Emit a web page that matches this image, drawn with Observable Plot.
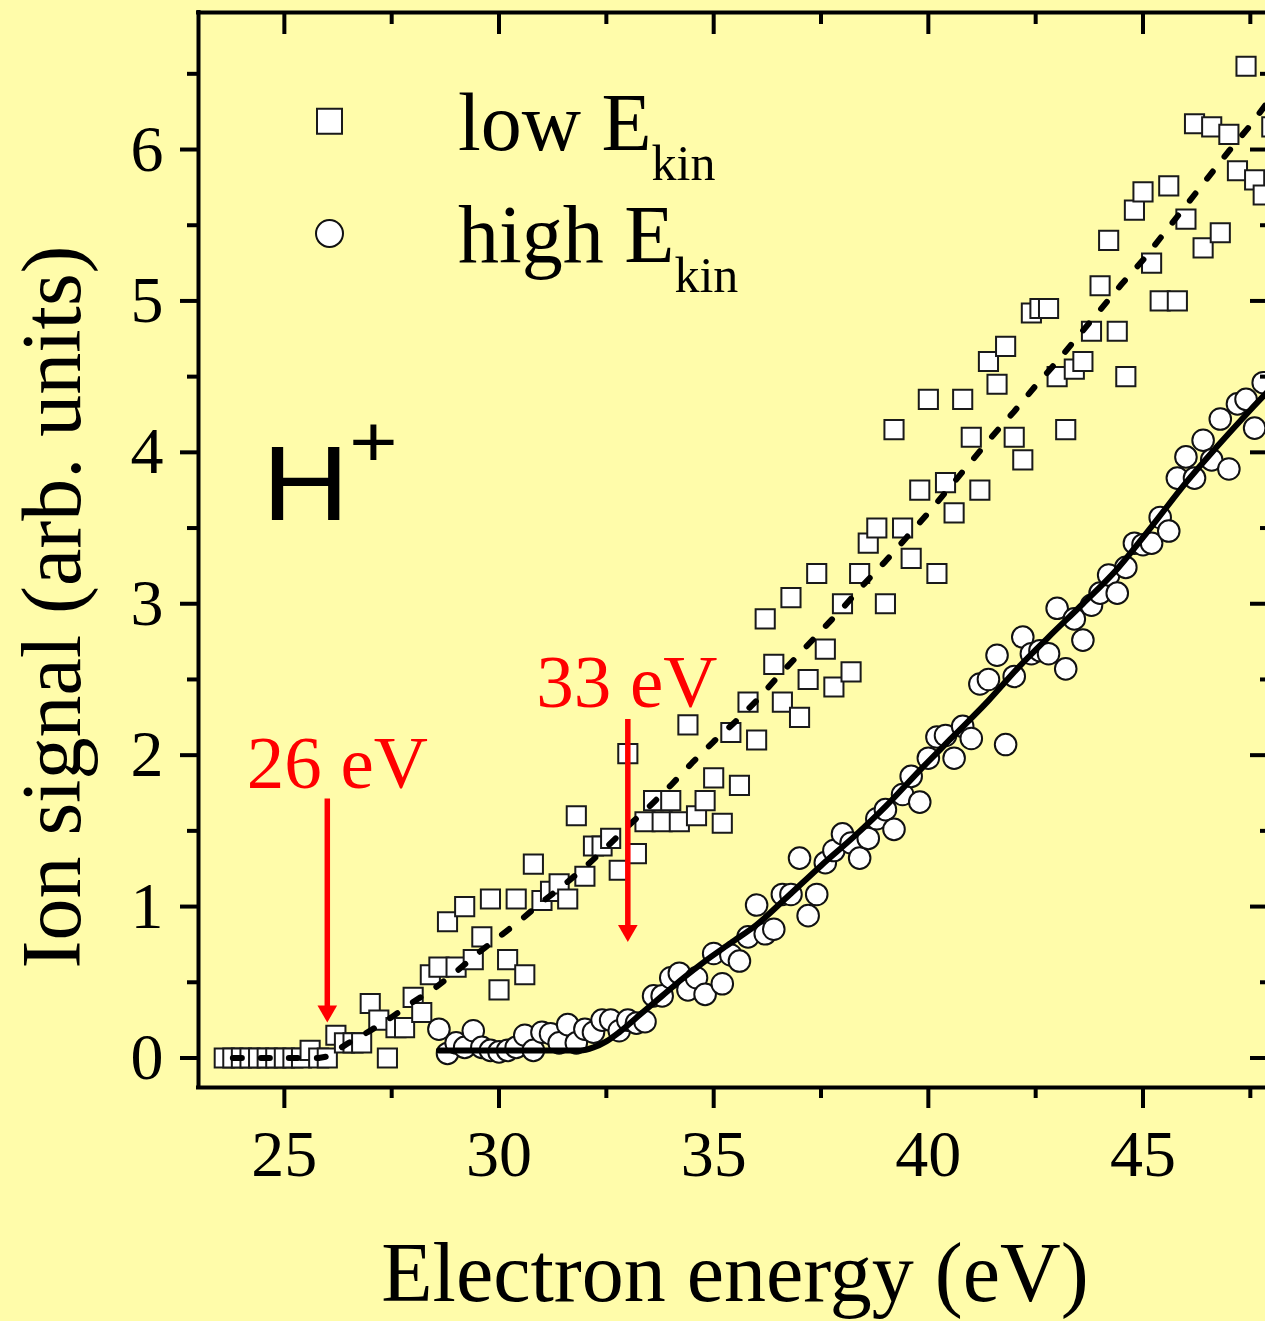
<!DOCTYPE html>
<html>
<head>
<meta charset="utf-8">
<script src="https://cdn.jsdelivr.net/npm/d3@7"></script>
<script src="https://cdn.jsdelivr.net/npm/@observablehq/plot@0.6"></script>
<style>
  html, body { margin: 0; padding: 0; background: #FFFCAA; overflow: hidden; }
  #chart svg { display: block; }
</style>
</head>
<body>
<div id="chart"></div>
<script>
// H+ ion yield versus electron energy, two kinetic-energy windows.

// low E_kin ions (squares), 0.2 eV steps
const lowEnergy = [23.6,23.8,24.0,24.2,24.4,24.6,24.8,25.0,25.2,25.4,
  25.6,25.8,26.0,26.2,26.4,26.6,26.8,27.0,27.2,27.4,
  27.6,27.8,28.0,28.2,28.4,28.6,28.8,29.0,29.2,29.4,
  29.6,29.8,30.0,30.2,30.4,30.6,30.8,31.0,31.2,31.4,
  31.6,31.8,32.0,32.2,32.4,32.6,32.8,33.0,33.2,33.4,
  33.6,33.8,34.0,34.2,34.4,34.6,34.8,35.0,35.2,35.4,
  35.6,35.8,36.0,36.2,36.4,36.6,36.8,37.0,37.2,37.4,
  37.6,37.8,38.0,38.2,38.4,38.6,38.8,39.0,39.2,39.4,
  39.6,39.8,40.0,40.2,40.4,40.6,40.8,41.0,41.2,41.4,
  41.6,41.8,42.0,42.2,42.4,42.6,42.8,43.0,43.2,43.4,
  43.6,43.8,44.0,44.2,44.4,44.6,44.8,45.0,45.2,45.4,
  45.6,45.8,46.0,46.2,46.4,46.6,46.8,47.0,47.2,47.4,
  47.6,47.8,48.0];
const lowSignal = [0,0,0,0,0,0,0,0,0,0,
  0.05,0,0,0.15,0.1,0.1,0.1,0.36,0.25,0,
  0.2,0.2,0.4,0.3,0.55,0.6,0.9,0.6,1.0,0.65,
  0.8,1.05,0.45,0.65,1.05,0.55,1.28,1.04,1.1,1.15,
  1.05,1.6,1.2,1.4,1.4,1.45,1.24,2.01,1.35,1.56,
  1.7,1.56,1.7,1.56,2.2,1.6,1.7,1.85,1.55,2.15,
  1.8,2.35,2.1,2.9,2.6,2.35,3.04,2.25,2.5,3.2,
  2.7,2.45,3.0,2.55,3.2,3.4,3.5,3.0,4.15,3.5,
  3.3,3.75,4.35,3.2,3.8,3.6,4.35,4.1,3.75,4.6,
  4.45,4.7,4.1,3.95,4.92,4.95,4.95,4.5,4.15,4.55,
  4.6,4.8,5.1,5.4,4.8,4.5,5.6,5.72,5.25,5.0,
  5.76,5.0,5.54,6.17,5.35,6.15,5.45,6.1,5.86,6.55,
  5.8,5.7,6.15];

// high E_kin ions (circles)
const highEnergy = [28.6,28.8,29.0,29.2,29.4,29.6,29.8,30.0,30.2,30.4,
  30.6,30.8,31.0,31.2,31.4,31.6,31.8,32.0,32.2,32.4,
  32.6,32.8,33.0,33.2,33.4,33.6,33.8,34.0,34.2,34.4,
  34.6,34.8,35.0,35.2,35.4,35.6,35.8,36.0,36.2,36.4,
  36.6,36.8,37.0,37.2,37.4,37.6,37.8,38.0,38.2,38.4,
  38.6,38.8,39.0,39.2,39.4,39.6,39.8,40.0,40.2,40.4,
  40.6,40.8,41.0,41.2,41.4,41.6,41.8,42.0,42.2,42.4,
  42.6,42.8,43.0,43.2,43.4,43.6,43.8,44.0,44.2,44.4,
  44.6,44.8,45.0,45.2,45.4,45.6,45.8,46.0,46.2,46.4,
  46.6,46.8,47.0,47.2,47.4,47.6,47.8];
const highSignal = [0.19,0.03,0.10,0.07,0.18,0.07,0.05,0.04,0.05,0.07,
  0.15,0.05,0.17,0.16,0.10,0.22,0.10,0.19,0.17,0.25,
  0.25,0.18,0.25,0.23,0.24,0.41,0.41,0.53,0.56,0.45,
  0.53,0.42,0.69,0.49,0.68,0.64,0.80,1.01,0.82,0.85,
  1.08,1.08,1.32,0.94,1.08,1.29,1.37,1.48,1.42,1.32,
  1.45,1.58,1.64,1.51,1.74,1.86,1.69,1.98,2.12,2.13,
  1.98,2.19,2.11,2.47,2.50,2.66,2.07,2.52,2.78,2.67,
  2.69,2.67,2.97,2.57,2.90,2.76,2.99,3.07,3.19,3.07,
  3.24,3.40,3.39,3.40,3.57,3.48,3.83,3.97,3.83,4.08,
  3.95,4.22,3.89,4.32,4.35,4.16,4.46];

// fitted threshold curves
const lowFitEnergy = [23.8,25.8,26.0,26.5,27.0,27.5,28.0,28.5,29.0,29.5,30.0,30.5,31.0,31.5,32.0,32.5,
  33.0,33.5,34.0,34.5,35.0,35.5,36.0,36.5,37.0,37.5,38.0,38.5,39.0,39.5,40.0,40.5,
  41.0,41.5,42.0,42.5,43.0,43.5,44.0,44.5,45.0,45.5,46.0,46.5,47.0,47.5,48.0];
const lowFitSignal = [0,0,0.01,0.1,0.18,0.27,0.37,0.46,0.57,0.69,0.8,0.91,1.03,1.14,1.26,1.39,
  1.53,1.66,1.8,1.95,2.09,2.22,2.36,2.52,2.67,2.82,2.97,3.13,3.28,3.44,3.6,3.77,
  3.94,4.11,4.27,4.44,4.6,4.77,4.94,5.11,5.27,5.45,5.63,5.81,5.99,6.16,6.35];
const highFitEnergy = [28.6,31.9,32.2,32.5,32.8,33.3,33.8,34.3,34.8,35.4,36.0,36.7,37.5,38.3,
  39.0,39.8,40.6,41.4,42.1,42.8,43.6,44.4,45.2,46.0,46.7,47.5,48.0];
const highFitSignal = [0.05,0.05,0.07,0.11,0.17,0.29,0.41,0.53,0.64,0.76,0.88,1.06,1.27,1.47,
  1.66,1.9,2.13,2.36,2.58,2.78,3.0,3.23,3.51,3.8,4.03,4.28,4.43];

// threshold markers
const thresholdEnergy = [26, 33];
const thresholdLabel = ["26 eV", "33 eV"];

// axis ticks
const xMajor = [25, 30, 35, 40, 45];
const xMinor = [27.5, 32.5, 37.5, 42.5, 47.5];
const yMajor = [0, 1, 2, 3, 4, 5, 6];
const yMinor = [0.5, 1.5, 2.5, 3.5, 4.5, 5.5, 6.5];

const xTitle = "Electron energy (eV)";
const yTitle = "Ion signal (arb. units)";
const legendLabels = ["low E", "high E"];
const legendSub = "kin";

// ---- layout & style ----
const W = 1265, H = 1321;
const fL = 198, fT = 12, fB = 1087;
const xDomain = [23, 48], yDomain = [-0.195, 6.905];
const frameW = W - fL, frameH = fB - fT;
const serif = "'Liberation Serif', 'Times New Roman', serif";
const sans = "'Liberation Sans', Arial, sans-serif";
const bg = "#FFFCAA";
const red = "#FF0000";
const ink = "#000";

const low = lowEnergy.map((e, i) => ({e, s: lowSignal[i]}));
const high = highEnergy.map((e, i) => ({e, s: highSignal[i]}));
const lowFit = lowFitEnergy.map((e, i) => ({e, s: lowFitSignal[i]}));
const highFit = highFitEnergy.map((e, i) => ({e, s: highFitSignal[i]}));
const arrows = [
  {e: thresholdEnergy[0], top: 1.71, tip: 0.234, labelY: 1.78, label: thresholdLabel[0], dx: 10},
  {e: thresholdEnergy[1], top: 2.236, tip: 0.765, labelY: 2.315, label: thresholdLabel[1], dx: -1}
];

const svg = Plot.plot({
  width: W, height: H,
  marginLeft: fL, marginRight: 0, marginTop: fT, marginBottom: H - fB,
  style: {background: bg, fontFamily: serif, color: ink},
  x: {domain: xDomain, range: [fL, 1271.3]},
  y: {domain: yDomain, range: [fB, fT]},
  marks: [
    // data
    Plot.dot(low, {x: "e", y: "s", symbol: "square", r: 10.8, fill: "white", stroke: "#1a1a1a", strokeWidth: 2}),
    Plot.line(lowFit, {x: "e", y: "s", stroke: ink, strokeWidth: 6, strokeDasharray: "9,19", strokeLinecap: "round"}),
    Plot.dot(high, {x: "e", y: "s", symbol: "circle", r: 10.8, fill: "white", stroke: "#111", strokeWidth: 2}),
    Plot.line(highFit, {x: "e", y: "s", stroke: ink, strokeWidth: 6, curve: "monotone-x"}),

    // threshold arrows and labels
    Plot.ruleX(arrows, {x: "e", y1: "top", y2: d => d.tip + 0.08, stroke: red, strokeWidth: 5.5}),
    Plot.dot(arrows, {x: "e", y: "tip", symbol: "triangle", r: 7.3, rotate: 180, dy: -11.4, fill: red, stroke: "none"}),
    ...arrows.map(a => Plot.text([a], {x: "e", y: "labelY", text: "label", fill: red, fontSize: 75,
      lineAnchor: "bottom", textAnchor: "middle", dx: a.dx})),

    // frame
    Plot.ruleX([xDomain[0], xDomain[1]], {stroke: ink, strokeWidth: 4, strokeLinecap: "square"}),
    Plot.ruleY([yDomain[0], yDomain[1]], {stroke: ink, strokeWidth: 4, strokeLinecap: "square"}),

    // ticks: outward on left/bottom, inward on top/right
    Plot.tickY(yMajor, {y: d => d, insetLeft: -18, insetRight: frameW, stroke: ink, strokeWidth: 4}),
    Plot.tickY(yMinor, {y: d => d, insetLeft: -11, insetRight: frameW, stroke: ink, strokeWidth: 4}),
    Plot.tickY(yMajor, {y: d => d, insetLeft: 1250 - fL, insetRight: -6, stroke: ink, strokeWidth: 4}),
    Plot.tickY(yMinor, {y: d => d, insetLeft: 1260 - fL, insetRight: -6, stroke: ink, strokeWidth: 4}),
    Plot.tickX(xMajor, {x: d => d, insetTop: frameH, insetBottom: -21, stroke: ink, strokeWidth: 4}),
    Plot.tickX(xMinor, {x: d => d, insetTop: frameH, insetBottom: -11, stroke: ink, strokeWidth: 4}),
    Plot.tickX(xMajor, {x: d => d, insetTop: 0, insetBottom: frameH - 22, stroke: ink, strokeWidth: 4}),
    Plot.tickX(xMinor, {x: d => d, insetTop: 0, insetBottom: frameH - 12, stroke: ink, strokeWidth: 4}),

    // tick labels
    Plot.axisY({ticks: yMajor, anchor: "left", tickSize: 0, tickPadding: 35, fontSize: 66, label: null, tickFormat: d => String(d)}),
    Plot.axisX({ticks: xMajor, anchor: "bottom", tickSize: 0, tickPadding: 42, fontSize: 66, label: null, tickFormat: d => String(d)}),

    // axis titles
    Plot.text([xTitle], {frameAnchor: "bottom", text: d => d, dy: 213, dx: 3, lineAnchor: "bottom", textAnchor: "middle", fontSize: 84}),
    Plot.text([yTitle], {frameAnchor: "left", text: d => d, rotate: -90, dx: -145, dy: 57, lineAnchor: "middle", textAnchor: "middle", fontSize: 84}),

    // legend symbols
    Plot.dot(["low"], {frameAnchor: "top-left", dx: 131, dy: 108.7, symbol: "square", r: 14.1, fill: "white", stroke: "#1a1a1a", strokeWidth: 2}),
    Plot.dot(["high"], {frameAnchor: "top-left", dx: 131, dy: 221, symbol: "circle", r: 13.5, fill: "white", stroke: "#111", strokeWidth: 2})
  ]
});

// legend text with subscripts, and the ion label
const s = d3.select(svg);
[[legendLabels[0], 150], [legendLabels[1], 262]].forEach(([t, base]) => {
  s.append("text")
    .attr("x", 458).attr("y", base).attr("text-anchor", "start")
    .attr("font-family", serif).attr("font-size", 82).attr("fill", ink)
    .text(t)
    .append("tspan").attr("dy", 30).attr("font-size", 50).text(legendSub);
});
s.append("text")
  .attr("transform", "translate(262,520) scale(1.15,1)")
  .attr("text-anchor", "start")
  .attr("font-family", sans).attr("font-size", 105).attr("fill", ink)
  .text("H")
  .append("tspan").attr("dy", -54).attr("font-size", 72).text("+");

document.getElementById("chart").appendChild(svg);
</script>
</body>
</html>
